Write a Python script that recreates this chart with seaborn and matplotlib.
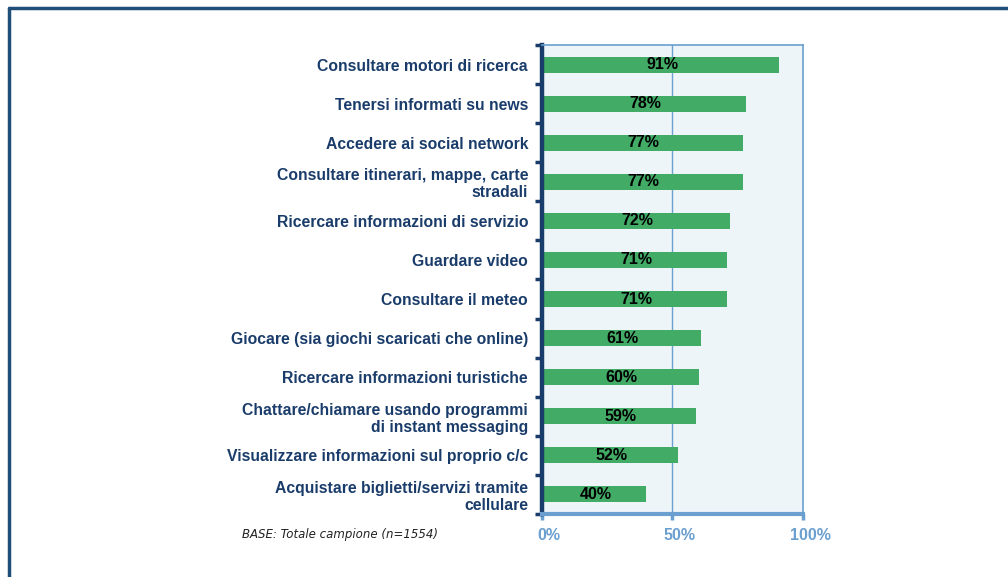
import matplotlib
matplotlib.use("Agg")
import matplotlib.pyplot as plt
import matplotlib.lines as mlines
import matplotlib.transforms as mtransforms
from matplotlib.ticker import FixedLocator
import pandas as pd
import seaborn as sns

# Smartphone activities and share of respondents
activities = [
    "Consultare motori di ricerca",
    "Tenersi informati su news",
    "Accedere ai social network",
    "Consultare itinerari, mappe, carte\nstradali",
    "Ricercare informazioni di servizio",
    "Guardare video",
    "Consultare il meteo",
    "Giocare (sia giochi scaricati che online)",
    "Ricercare informazioni turistiche",
    "Chattare/chiamare usando programmi\ndi instant messaging",
    "Visualizzare informazioni sul proprio c/c",
    "Acquistare biglietti/servizi tramite\ncellulare",
]
shares = [91, 78, 77, 77, 72, 71, 71, 61, 60, 59, 52, 40]
x_ticks = [0, 50, 100]
x_tick_labels = ["0%", "50%", "100%"]
note = "BASE: Totale campione (n=1554)"

NAVY = "#1A3C6A"
LIGHT_BLUE = "#6A9FD0"
GREEN = "#42AB66"
PANEL = "#EEF5F9"

sns.set_theme(style="white")
plt.rcParams["font.family"] = ["Liberation Sans", "DejaVu Sans"]

df = pd.DataFrame({"activity": activities, "share": shares})

fig = plt.figure(figsize=(10.08, 5.77), dpi=100)
ax = fig.add_axes([0.5377, 0.1092, 0.2589, 0.8128])
ax.set_facecolor(PANEL)

sns.barplot(data=df, x="share", y="activity", color=GREEN, saturation=1,
            width=0.41, ax=ax, edgecolor="none")

ax.set_xlim(0, 100)
ax.set_ylim(len(activities) - 0.5, -0.5)
ax.set_xlabel("")
ax.set_ylabel("")

# Vertical reference line at 50%
ax.axvline(50, color=LIGHT_BLUE, lw=1.0, zorder=0.5)

# Value labels centred on each bar
for i, v in enumerate(shares):
    ax.text(v / 2 + 0.5, i, f"{v}%", ha="center", va="center",
            fontsize=11.5, fontweight="bold", color="black")

# Spines
for side in ("top", "right"):
    ax.spines[side].set_color(LIGHT_BLUE)
    ax.spines[side].set_linewidth(1.2)
ax.spines["bottom"].set_color(LIGHT_BLUE)
ax.spines["bottom"].set_linewidth(3)
ax.spines["left"].set_color(NAVY)
ax.spines["left"].set_linewidth(3.2)

# Category ticks: labels at centres, tick marks at boundaries
ax.set_yticks(range(len(activities)))
ax.set_yticklabels(activities, fontsize=11.3, fontweight="bold", color=NAVY,
                   ha="right", linespacing=1.17)
ax.tick_params(axis="y", which="major", length=0, pad=10)
ax.yaxis.set_minor_locator(FixedLocator([i - 0.5 for i in range(len(activities) + 1)]))
ax.tick_params(axis="y", which="minor", length=5, width=2.5, color=NAVY, left=True)

ax.set_xticks(x_ticks)
ax.set_xticklabels(x_tick_labels, fontsize=11.5, fontweight="bold", color=LIGHT_BLUE)
ax.tick_params(axis="x", which="major", length=4, width=2.5, color=LIGHT_BLUE,
               bottom=True, pad=6)
shift = mtransforms.ScaledTranslation(7 / 100, 0, fig.dpi_scale_trans)
for lbl in ax.get_xticklabels():
    lbl.set_transform(lbl.get_transform() + shift)

fig.text(0.24, 0.068, note, fontsize=8.5, style="italic", color="#222222",
         family="DejaVu Sans")

# Outer frame on the top and left
fig.add_artist(mlines.Line2D([0.0085, 1.0], [0.986, 0.986], color="#1F4E79",
                             lw=2.5, transform=fig.transFigure))
fig.add_artist(mlines.Line2D([0.0085, 0.0085], [0.0, 0.986], color="#1F4E79",
                             lw=2.5, transform=fig.transFigure))

fig.savefig("out.png", dpi=100)
